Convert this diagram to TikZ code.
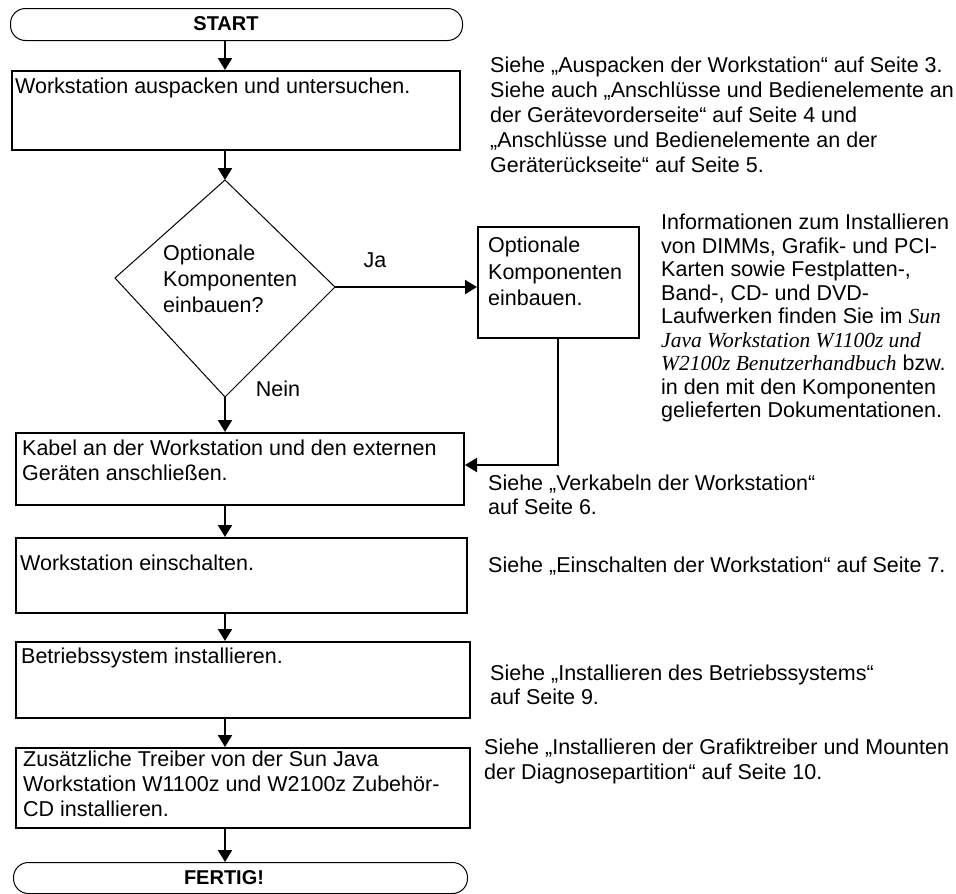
\documentclass[tikz,border=0pt]{standalone}
\usepackage{fontspec}
\setmainfont{Liberation Sans}
\newfontfamily\tnrfont{Liberation Serif}
\usetikzlibrary{arrows.meta}
\begin{document}
\begin{tikzpicture}[x=1pt,y=-1pt,
  box/.style={draw, line width=2pt, rectangle, inner sep=0pt, anchor=north west},
  term/.style={draw, line width=1pt, rounded corners=15pt, inner sep=0pt, anchor=north west},
  termtxt/.style={inner sep=0pt, font=\fontsize{20}{24}\selectfont\bfseries},
  txt/.style={anchor=north west, inner sep=0pt, align=left, font=\fontsize{21.5}{25}\selectfont},
  lbl/.style={inner sep=0pt, font=\fontsize{21.5}{25}\selectfont},
  arr/.style={line width=2pt, -{Triangle[width=14pt,length=12pt]}},
  itx/.style={}
]
\useasboundingbox (0,0) rectangle (956,894);
\coordinate (axis) at (225,0);

% terminators
\node[term, minimum width=452pt, minimum height=32pt] (st) at (10,8) {};
\node[termtxt] (sttxt) at (226,24) {START};
\node[term, minimum width=454pt, minimum height=31pt] (fe) at (13,862) {};
\node[termtxt] (fetxt) at (224,878) {FERTIG!};

% process boxes
\node[box, minimum width=448pt, minimum height=79pt] (b1) at (11,70) {};
\node[txt] (t1) at (15,78) {Workstation auspacken und untersuchen.};

\node[box, minimum width=161pt, minimum height=111pt] (b2) at (477,226) {};
\node[txt, font=\fontsize{21.5}{26.5}\selectfont] (t2) at (488,237) {Optionale\\Komponenten\\einbauen.};

\node[box, minimum width=448pt, minimum height=72pt] (b3) at (15,432) {};
\node[txt] (t3) at (22,440) {Kabel an der Workstation und den externen\\Geräten anschließen.};

\node[box, minimum width=451pt, minimum height=75pt] (b4) at (15,537) {};
\node[txt] (t4) at (20,555) {Workstation einschalten.};

\node[box, minimum width=454pt, minimum height=76pt] (b5) at (15,641) {};
\node[txt] (t5) at (21,648) {Betriebssystem installieren.};

\node[box, minimum width=454pt, minimum height=80pt] (b6) at (15,747) {};
\node[txt] (t6) at (23,751) {Zusätzliche Treiber von der Sun Java\\Workstation W1100z und W2100z Zubehör-\\CD installieren.};

% decision
\coordinate (dt) at (225,180);
\coordinate (dr) at (335,287);
\coordinate (db) at (225,397);
\coordinate (dl) at (115,278);
\draw[line width=1pt] (dt) -- (dr) -- (db) -- (dl) -- cycle;
\node[txt, font=\fontsize{21.5}{26}\selectfont] (td) at (163,245) {Optionale\\Komponenten\\einbauen?};
\node[lbl] (ja) at (375,260) {Ja};
\node[lbl] (nein) at (278,389) {Nein};

% connectors
\draw[arr] (st.south -| axis) -- (b1.north -| axis);
\draw[arr] (b1.south -| axis) -- (dt);
\draw[arr] (dr) -- (b2.west |- dr);
\draw[arr] (db) -- (b3.north -| axis);
\coordinate (cx) at (558,465);
\draw[arr] (b2.south -| cx) -- (cx) -- (b3.east |- cx);
\draw[arr] (b3.south -| axis) -- (b4.north -| axis);
\draw[arr] (b4.south -| axis) -- (b5.north -| axis);
\draw[arr] (b5.south -| axis) -- (b6.north -| axis);
\draw[arr] (b6.south -| axis) -- (fe.north -| axis);

% right-hand notes
\node[txt] (r1) at (490,57) {Siehe „Auspacken der Workstation“ auf Seite 3.\\
Siehe auch „Anschlüsse und Bedienelemente an\\
der Gerätevorderseite“ auf Seite 4 und\\
„Anschlüsse und Bedienelemente an der\\
Geräterückseite“ auf Seite 5.};

\node[txt, font=\fontsize{21.5}{23.5}\selectfont] (r2) at (661,214) {Informationen zum Installieren\\
von DIMMs, Grafik- und PCI-\\
Karten sowie Festplatten-,\\
Band-, CD- und DVD-\\
Laufwerken finden Sie im {\tnrfont\itshape Sun}\\
{\tnrfont\itshape Java Workstation W1100z und}\\
{\tnrfont\itshape W2100z Benutzerhandbuch} bzw.\\
in den mit den Komponenten\\
gelieferten Dokumentationen.};

\node[txt, font=\fontsize{21.5}{24}\selectfont] (r3) at (488,475) {Siehe „Verkabeln der Workstation“\\auf Seite 6.};
\node[txt] (r4) at (488,557) {Siehe „Einschalten der Workstation“ auf Seite 7.};
\node[txt, font=\fontsize{21.5}{24}\selectfont] (r5) at (490,665) {Siehe „Installieren des Betriebssystems“\\auf Seite 9.};
\node[txt] (r6) at (484,739) {Siehe „Installieren der Grafiktreiber und Mounten\\der Diagnosepartition“ auf Seite 10.};
\end{tikzpicture}
\end{document}
